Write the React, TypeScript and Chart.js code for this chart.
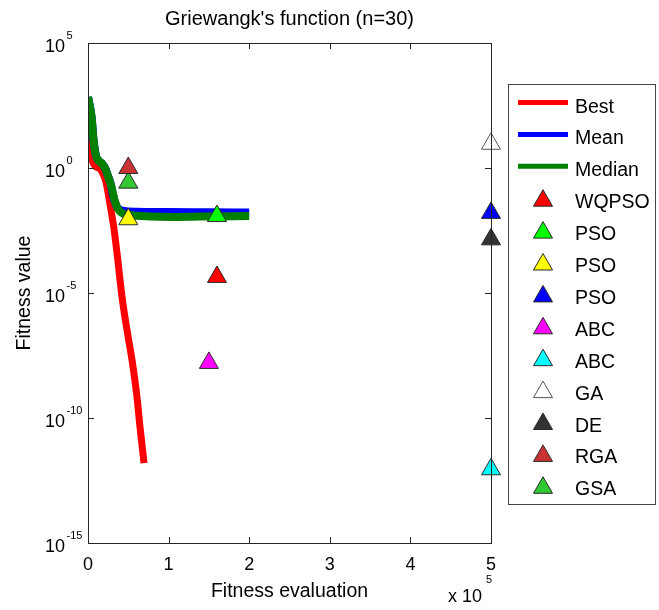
import React, { useEffect, useRef } from 'react';
import { Chart, registerables } from 'chart.js';

Chart.register(...registerables);

const FONT = '"Liberation Sans", Arial, Helvetica, sans-serif';

const titleText = "Griewangk's function (n=30)";
const xTitle = 'Fitness evaluation';
const yTitle = 'Fitness value';

// Convergence curves (x = fitness evaluations)
const bestX = [0, 2500, 5000, 8700, 15000, 18600, 22300, 25400, 28500, 31600, 36000, 42200, 48400, 54600, 60800, 64500, 69500];
const bestY = [17.4, 5.25, 2.09, 1.2, 0.91, 0.575, 0.275, 0.083, 0.0209, 0.00525, 3.98e-4, 6.9e-6, 3.3e-7, 2.1e-8, 6.9e-10, 4.4e-11, 1.58e-12];

const meanX = [0, 4600, 6600, 9600, 13000, 17000, 21100, 24800, 28500, 31000, 36000, 44700, 60000, 100000, 150000, 200000];
const meanY = [692, 100, 15.8, 3.31, 2.0, 1.55, 1.0, 0.479, 0.209, 0.0794, 0.0275, 0.0191, 0.0178, 0.0174, 0.017, 0.0166];

const medianX = [0, 4600, 6600, 9600, 13000, 17000, 21100, 24800, 28500, 33500, 37200, 42200, 52100, 76900, 101700, 139000, 200000];
const medianY = [692, 100, 15.8, 3.31, 2.0, 1.55, 1.0, 0.479, 0.209, 0.0447, 0.0229, 0.0158, 0.0132, 0.0115, 0.011, 0.0115, 0.012];

const lineLabels = ['Best', 'Mean', 'Median'];
const lineColors = ['#ff0000', '#0000ff', '#008000'];

// Reference algorithms (single markers)
const markerLabels = ['WQPSO', 'PSO', 'PSO', 'PSO', 'ABC', 'ABC', 'GA', 'DE', 'RGA', 'GSA'];
const markerX = [160000, 160000, 50000, 500000, 150000, 500000, 500000, 500000, 50000, 50000];
const markerY = [4.4e-5, 0.012, 0.0089, 0.016, 1.6e-8, 8.9e-13, 9.3, 1.4e-3, 1.0, 0.26];
const markerColors = ['#ff0000', '#00ff00', '#ffff00', '#0000ff', '#ff00ff', '#00ffff', '#ffffff', '#333333', '#c83232', '#32c832'];

const xTicks = [0, 100000, 200000, 300000, 400000, 500000];
const yTicks = [1e-15, 1e-10, 1e-5, 1, 1e5];
const yTickExp = ['-15', '-10', '-5', '0', '5'];

function triangle(ctx: CanvasRenderingContext2D, x: number, y: number, r: number) {
  ctx.beginPath();
  ctx.moveTo(x, y - r);
  ctx.lineTo(x + Math.sin((2 * Math.PI) / 3) * r, y + r / 2);
  ctx.lineTo(x - Math.sin((2 * Math.PI) / 3) * r, y + r / 2);
  ctx.closePath();
}

const framePlugin = {
  id: 'frame',
  afterDraw(chart: any) {
    const { ctx, chartArea: a, scales } = chart;
    const xs = scales.x;
    const ys = scales.y;
    ctx.save();
    // axes box
    ctx.strokeStyle = '#262626';
    ctx.lineWidth = 1;
    const L = Math.round(a.left), T = Math.round(a.top), R = Math.round(a.right), B = Math.round(a.bottom);
    ctx.strokeRect(L + 0.5, T + 0.5, R - L, B - T);
    // inward ticks
    ctx.beginPath();
    xTicks.forEach((v) => {
      const px = Math.round(xs.getPixelForValue(v)) + 0.5;
      ctx.moveTo(px, B);
      ctx.lineTo(px, B - 6);
      ctx.moveTo(px, T);
      ctx.lineTo(px, T + 6);
    });
    yTicks.forEach((v) => {
      const py = Math.round(ys.getPixelForValue(v)) + 0.5;
      ctx.moveTo(L, py);
      ctx.lineTo(L + 6, py);
      ctx.moveTo(R, py);
      ctx.lineTo(R - 6, py);
    });
    ctx.stroke();

    // y tick labels 10^n
    ctx.fillStyle = '#000';
    yTicks.forEach((v, i) => {
      const py = ys.getPixelForValue(v);
      ctx.font = `18px ${FONT}`;
      ctx.textAlign = 'right';
      ctx.textBaseline = 'alphabetic';
      ctx.fillText('10', L - 23, py + 8.7);
      ctx.font = `11px ${FONT}`;
      ctx.textAlign = 'left';
      ctx.fillText(yTickExp[i], L - 21.5, py - 4.5);
    });

    // x multiplier
    ctx.font = `18px ${FONT}`;
    ctx.textAlign = 'left';
    ctx.fillText('x 10', R - 43, 602);
    ctx.font = `11px ${FONT}`;
    ctx.fillText('5', R - 5, 583);

    // title
    ctx.font = `20px ${FONT}`;
    ctx.textAlign = 'center';
    ctx.fillText(titleText, (a.left + a.right) / 2, 25);

    // legend
    const lx = 508, ly = 84, lw = 147, lh = 420;
    ctx.fillStyle = '#fff';
    ctx.fillRect(lx, ly, lw, lh);
    ctx.strokeStyle = '#444';
    ctx.lineWidth = 1;
    ctx.strokeRect(lx + 0.5, ly + 0.5, lw, lh);
    const ds = chart.data.datasets;
    ds.forEach((d: any, i: number) => {
      const cy = ly + 21.5 + 31.9 * i;
      if (d.showLine) {
        ctx.strokeStyle = d.borderColor;
        ctx.lineWidth = 5;
        ctx.lineCap = 'butt';
        ctx.beginPath();
        ctx.moveTo(lx + 10, cy - 3);
        ctx.lineTo(lx + 60, cy - 3);
        ctx.stroke();
      } else {
        triangle(ctx, lx + 35, cy - 0.5, 11);
        ctx.fillStyle = d.backgroundColor;
        ctx.fill();
        ctx.strokeStyle = d.borderColor;
        ctx.lineWidth = 1;
        ctx.stroke();
      }
      ctx.fillStyle = '#000';
      ctx.font = `19.5px ${FONT}`;
      ctx.textAlign = 'left';
      ctx.textBaseline = 'alphabetic';
      ctx.fillText(d.label, lx + 67, cy + 7);
    });
    ctx.restore();
  },
};

export default function App() {
  const ref = useRef<HTMLCanvasElement>(null);
  useEffect(() => {
    const canvas = ref.current;
    if (!canvas) return;
    Chart.defaults.font.family = FONT;
    Chart.defaults.color = '#000';

    const lineXs = [bestX, meanX, medianX];
    const lineYs = [bestY, meanY, medianY];
    const lineDatasets = lineLabels.map((label, i) => ({
      label,
      data: lineXs[i].map((x, j) => ({ x, y: lineYs[i][j] })),
      showLine: true,
      borderColor: lineColors[i],
      backgroundColor: lineColors[i],
      borderWidth: i === 0 ? 7 : 8,
      borderCapStyle: 'butt',
      borderJoinStyle: 'round',
      cubicInterpolationMode: 'monotone',
      pointRadius: 0,
      pointHoverRadius: 0,
      clip: 0,
      order: 20 - i,
    }));
    const markerDatasets = markerLabels.map((label, i) => ({
      label,
      data: [{ x: markerX[i], y: markerY[i] }],
      showLine: false,
      pointStyle: 'triangle',
      pointRadius: 11,
      pointHoverRadius: 11,
      backgroundColor: markerColors[i],
      borderColor: i === 6 ? '#555' : '#2a2a2a',
      borderWidth: 1,
      clip: false,
      order: 0,
    }));

    const chart = new Chart(canvas, {
      type: 'scatter',
      data: { datasets: [...lineDatasets, ...markerDatasets] as any },
      options: {
        animation: false,
        responsive: false,
        maintainAspectRatio: false,
        events: [],
        layout: { padding: { top: 43, right: 168, bottom: 0, left: 0 } },
        plugins: {
          legend: { display: false },
          tooltip: { enabled: false },
          title: { display: false },
        },
        scales: {
          x: {
            type: 'linear',
            min: 0,
            max: 500000,
            afterBuildTicks: (s: any) => {
              s.ticks = xTicks.map((v) => ({ value: v }));
            },
            afterFit: (s: any) => {
              s.height = 67;
            },
            ticks: {
              autoSkip: false,
              maxRotation: 0,
              padding: 11,
              color: '#000',
              font: { size: 18 },
              callback: (v: any) => String(Number(v) / 100000),
            },
            grid: { display: false, drawTicks: false },
            border: { display: false },
            title: {
              display: true,
              text: xTitle,
              color: '#000',
              font: { size: 19.5 },
              padding: { top: 0, bottom: 7 },
            },
          },
          y: {
            type: 'logarithmic',
            min: 1e-15,
            max: 1e5,
            afterFit: (s: any) => {
              s.width = 88;
            },
            ticks: { display: false },
            grid: { display: false, drawTicks: false },
            border: { display: false },
            title: {
              display: true,
              text: yTitle,
              color: '#000',
              font: { size: 19.5 },
              padding: { top: 13, bottom: 0 },
            },
          },
        },
      } as any,
      plugins: [framePlugin],
    });
    return () => chart.destroy();
  }, []);

  return (
    <div style={{ position: 'absolute', left: 0, top: 0, width: 659, height: 610, background: '#fff' }}>
      <canvas ref={ref} width={659} height={610} style={{ width: 659, height: 610, display: 'block' }} />
    </div>
  );
}
